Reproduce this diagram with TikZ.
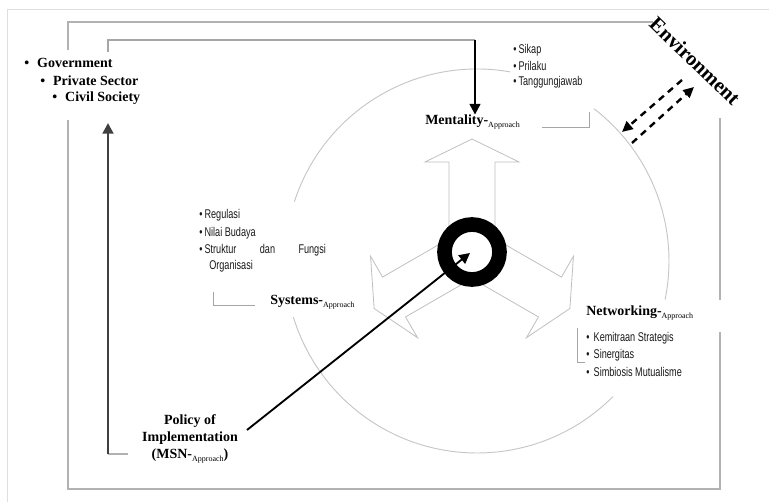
\documentclass[tikz,border=0pt]{standalone}
\usepackage{fontspec}
\setmainfont{Liberation Serif}
\newfontfamily\condfont[FakeStretch=0.72]{Liberation Sans}
\usetikzlibrary{calc,arrows.meta}

\newcommand{\appr}{\raisebox{-0.45ex}{\fontsize{6}{6}\selectfont\mdseries Approach}}

\tikzset{
	bold/.style={font=\bfseries\fontsize{10.5}{12.75}\selectfont,inner sep=0pt},
	lst/.style={font=\condfont\fontsize{9.5}{10}\selectfont,inner sep=0pt,anchor=west,text=black!90},
	frame/.style={gray!60,line width=0.9pt},
	orbit/.style={gray!45,line width=0.7pt},
	hollow/.style={gray!50,line width=0.6pt},
	brk/.style={gray!70,line width=0.6pt},
	blackarrow/.style={line width=1.6pt,-{Triangle[length=8pt,width=8pt]}},
	envarrow/.style={line width=1.8pt,dash pattern=on 5pt off 4pt,-{Triangle[length=8pt,width=7.5pt]}}
}

\begin{document}
\begin{tikzpicture}[x=0.75pt,y=-0.75pt]
	\useasboundingbox (0,0) rectangle (769,502);

	\draw[gray!25] (7,502) -- (7,9) -- (769,9);
	\draw[frame] (68,50) -- (68,22) -- (653,22);
	\draw[frame] (720,118) -- (720,300);
	\draw[frame] (720,332) -- (720,489) -- (68,489) -- (68,120);

	\coordinate (O) at (477,261);
	\coordinate (R) at (472,252);

	\draw[orbit] ($(O)+(-162:192)$) arc[start angle=-162,end angle=-80,radius=192];
	\draw[orbit] ($(O)+(-52.5:192)$) arc[start angle=-52.5,end angle=11.6,radius=192];
	\draw[orbit] ($(O)+(45:192)$) arc[start angle=45,end angle=163,radius=192];

	\foreach \a in {90,210,330}
		\draw[hollow,shift={(R)},rotate=\a] (13.3,23) -- (90,23) -- (90,47) -- (113,0) -- (90,-47) -- (90,-23) -- (13.3,-23);

	\draw[line width=11pt,fill=white] (R) circle[radius=27.5];

	\node[bold,anchor=west] (gov) at (24,63) {\textbullet\hspace{6pt}Government};
	\node[bold,anchor=west] (pri) at (40,81) {\textbullet\hspace{6pt}Private Sector};
	\node[bold,anchor=west] (civ) at (52,98) {\textbullet\hspace{6pt}Civil Society};

	\node[bold,anchor=west] (ment) at (425,122) {Mentality-\appr};
	\node[bold,anchor=west] (sys) at (270,302) {Systems-\appr};
	\node[bold,anchor=west] (net) at (586,313) {Networking-\appr};
	\node[bold,align=center] (pol) at (190,439) {Policy of\\Implementation\\(MSN-\appr)};
	\node[font=\bfseries\fontsize{15.5}{18}\selectfont,inner sep=0pt,rotate=-44] (env) at (695,61) {Environment};

	\node[lst] (sikap) at (513,50) {\textbullet\,Sikap};
	\node[lst] (prilaku) at (513,66) {\textbullet\,Prilaku};
	\node[lst] (tanggung) at (513,82) {\textbullet\,Tanggungjawab};

	\node[lst] (reg) at (199,215) {\textbullet\,Regulasi};
	\node[lst] (nilai) at (199,233) {\textbullet\,Nilai Budaya};
	\node[lst] (struk) at (199,250) {\textbullet\,\makebox[91pt][l]{Struktur\hfill dan\hfill Fungsi}};
	\node[lst] (org) at (209,266) {Organisasi};

	\node[lst] (kemit) at (586,338) {\textbullet\,\,Kemitraan Strategis};
	\node[lst] (siner) at (586,355) {\textbullet\,\,Sinergitas};
	\node[lst] (simb) at (586,372) {\textbullet\,\,Simbiosis Mutualisme};

	\draw[brk] (542,127) -- (589,127) -- (589,112);
	\draw[brk] (213,292) |- (255,305);
	\draw[brk] (577,328) |- (585,362);

	\coordinate (t1) at (108,52);
	\coordinate (t2) at (475,40);
	\draw[gray!70,line width=1pt] (t1) |- (t2);
	\draw[blackarrow] (t2) -- (ment.north -| t2);

	\coordinate (pb) at (108,454);
	\coordinate (pt) at (108,123);
	\draw[gray!60,line width=0.8pt] (pb) -- (128,454);
	\draw[blackarrow,black!75,line width=2pt] (pb) -- (pt);

	\coordinate (p1) at (247,430);
	\coordinate (hub) at (470,253);
	\draw[blackarrow,line width=1.4pt] (p1) -- (hub);

	\coordinate (ea) at (682,80);
	\coordinate (eb) at (622,132);
	\coordinate (ec) at (632,143);
	\coordinate (ed) at (694,87);
	\draw[envarrow] (ea) -- (eb);
	\draw[envarrow] (ec) -- (ed);
\end{tikzpicture}
\end{document}
